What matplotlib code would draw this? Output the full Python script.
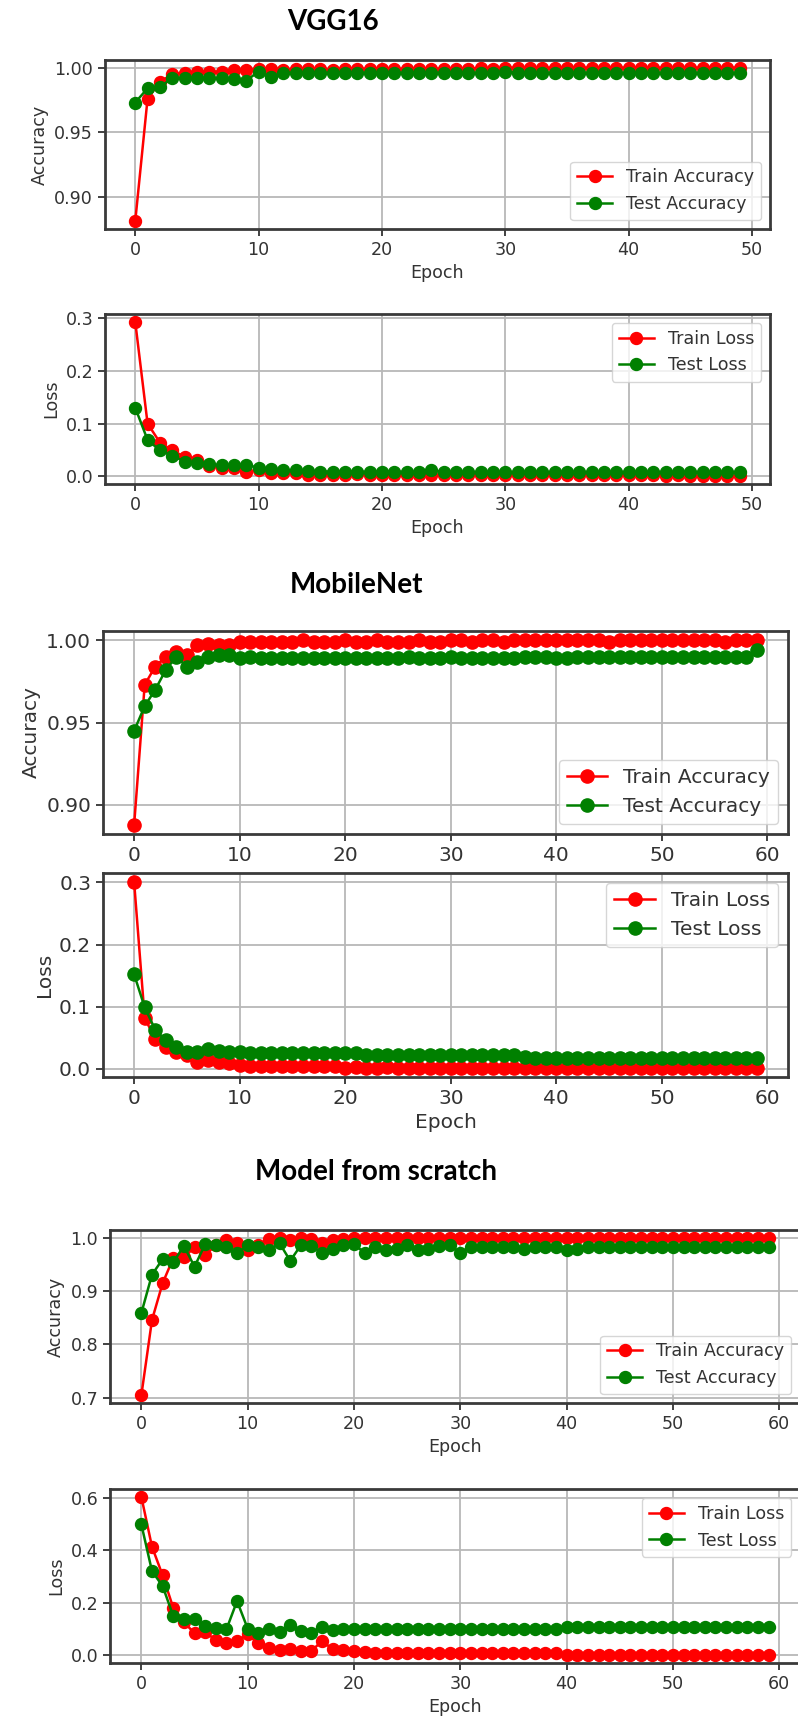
import matplotlib
matplotlib.use("Agg")
import matplotlib.pyplot as plt

W, H = 798, 1725

# ---- VGG16 (50 epochs) ----
vgg_epochs = list(range(50))
vgg_train_acc = [0.881, 0.976, 0.989, 0.995, 0.996, 0.997, 0.997, 0.997, 0.998, 0.998,
                 0.999, 0.999, 0.998, 0.999, 0.999, 0.999, 0.998, 0.999, 0.999, 0.999,
                 0.999, 0.999, 0.999, 0.999, 0.999, 0.999, 0.999, 0.999, 1.000, 0.999,
                 1.000, 1.000, 1.000, 1.000, 1.000, 1.000, 1.000, 1.000, 1.000, 1.000,
                 1.000, 1.000, 1.000, 1.000, 1.000, 1.000, 1.000, 1.000, 1.000, 1.000]
vgg_test_acc = [0.973, 0.984, 0.985, 0.992, 0.992, 0.992, 0.992, 0.992, 0.991, 0.990,
                0.997, 0.993, 0.996, 0.996, 0.996, 0.996, 0.996, 0.996, 0.996, 0.996,
                0.996, 0.996, 0.996, 0.996, 0.996, 0.996, 0.996, 0.996, 0.996, 0.996,
                0.997, 0.996, 0.996, 0.996, 0.996, 0.996, 0.996, 0.996, 0.996, 0.996,
                0.996, 0.996, 0.996, 0.996, 0.996, 0.996, 0.996, 0.996, 0.996, 0.996]
vgg_train_loss = [0.293, 0.100, 0.064, 0.049, 0.037, 0.030, 0.019, 0.016, 0.016, 0.009,
                  0.012, 0.007, 0.006, 0.006, 0.003, 0.003, 0.003, 0.003, 0.004, 0.003,
                  0.003, 0.003, 0.002, 0.003, 0.003, 0.002, 0.002, 0.002, 0.002, 0.002,
                  0.002, 0.002, 0.002, 0.002, 0.002, 0.002, 0.002, 0.002, 0.002, 0.002,
                  0.002, 0.002, 0.002, 0.000, 0.002, 0.000, 0.000, 0.000, 0.000, 0.000]
vgg_test_loss = [0.130, 0.069, 0.049, 0.039, 0.028, 0.025, 0.023, 0.021, 0.021, 0.022,
                 0.016, 0.013, 0.011, 0.011, 0.010, 0.009, 0.009, 0.009, 0.009, 0.008,
                 0.009, 0.009, 0.008, 0.008, 0.012, 0.008, 0.008, 0.008, 0.008, 0.008,
                 0.008, 0.008, 0.008, 0.008, 0.008, 0.008, 0.008, 0.008, 0.008, 0.008,
                 0.008, 0.008, 0.008, 0.008, 0.008, 0.008, 0.008, 0.008, 0.008, 0.008]

# ---- MobileNet (60 epochs) ----
mob_epochs = list(range(60))
mob_train_acc = [0.888, 0.973, 0.984, 0.990, 0.993, 0.991, 0.997, 0.998, 0.997, 0.997,
                 0.999, 0.999, 0.999, 0.999, 0.999, 0.999, 1.000, 0.999, 0.999, 0.999,
                 1.000, 0.999, 0.999, 1.000, 0.999, 0.999, 0.999, 1.000, 0.999, 0.999,
                 1.000, 1.000, 0.999, 1.000, 1.000, 0.999, 1.000, 1.000, 1.000, 1.000,
                 1.000, 1.000, 1.000, 1.000, 1.000, 0.999, 1.000, 1.000, 1.000, 1.000,
                 1.000, 1.000, 1.000, 1.000, 1.000, 1.000, 0.999, 1.000, 1.000, 1.000]
mob_test_acc = [0.945, 0.960, 0.970, 0.982, 0.990, 0.984, 0.987, 0.990, 0.991, 0.991,
                0.989, 0.990, 0.989, 0.989, 0.989, 0.989, 0.989, 0.989, 0.989, 0.989,
                0.989, 0.989, 0.989, 0.989, 0.989, 0.989, 0.990, 0.989, 0.989, 0.989,
                0.990, 0.989, 0.989, 0.989, 0.989, 0.989, 0.989, 0.990, 0.990, 0.990,
                0.989, 0.989, 0.990, 0.990, 0.990, 0.990, 0.990, 0.990, 0.990, 0.990,
                0.990, 0.990, 0.990, 0.990, 0.990, 0.990, 0.990, 0.990, 0.990, 0.994]
mob_train_loss = [0.300, 0.082, 0.048, 0.035, 0.027, 0.023, 0.011, 0.015, 0.012, 0.010,
                  0.007, 0.005, 0.004, 0.004, 0.004, 0.004, 0.004, 0.004, 0.004, 0.004,
                  0.002, 0.003, 0.002, 0.002, 0.003, 0.002, 0.002, 0.002, 0.002, 0.002,
                  0.002, 0.002, 0.002, 0.002, 0.002, 0.002, 0.002, 0.002, 0.002, 0.002,
                  0.002, 0.002, 0.002, 0.002, 0.002, 0.002, 0.002, 0.002, 0.002, 0.002,
                  0.002, 0.002, 0.002, 0.002, 0.002, 0.002, 0.002, 0.002, 0.002, 0.002]
mob_test_loss = [0.152, 0.099, 0.063, 0.046, 0.036, 0.027, 0.028, 0.032, 0.029, 0.028,
                 0.027, 0.025, 0.025, 0.025, 0.025, 0.025, 0.025, 0.025, 0.025, 0.025,
                 0.025, 0.026, 0.023, 0.023, 0.023, 0.023, 0.023, 0.023, 0.023, 0.023,
                 0.023, 0.023, 0.023, 0.023, 0.023, 0.023, 0.023, 0.019, 0.018, 0.018,
                 0.018, 0.018, 0.018, 0.018, 0.018, 0.018, 0.018, 0.018, 0.018, 0.018,
                 0.018, 0.018, 0.018, 0.018, 0.018, 0.018, 0.018, 0.018, 0.018, 0.018]

# ---- Model from scratch (60 epochs) ----
scr_epochs = list(range(60))
scr_train_acc = [0.705, 0.846, 0.915, 0.962, 0.964, 0.982, 0.968, 0.986, 0.996, 0.990,
                 0.977, 0.986, 0.997, 1.000, 0.996, 1.000, 0.998, 0.990, 0.996, 0.998,
                 1.000, 1.000, 0.999, 1.000, 1.000, 1.000, 0.999, 1.000, 1.000, 1.000,
                 0.999, 1.000, 1.000, 1.000, 1.000, 1.000, 1.000, 1.000, 1.000, 1.000,
                 1.000, 1.000, 1.000, 1.000, 1.000, 1.000, 1.000, 1.000, 1.000, 1.000,
                 1.000, 1.000, 1.000, 1.000, 1.000, 1.000, 1.000, 1.000, 1.000, 1.000]
scr_test_acc = [0.859, 0.931, 0.960, 0.954, 0.985, 0.946, 0.988, 0.986, 0.982, 0.971,
                0.986, 0.983, 0.977, 0.990, 0.957, 0.986, 0.985, 0.972, 0.980, 0.986,
                0.988, 0.972, 0.982, 0.978, 0.980, 0.986, 0.977, 0.980, 0.985, 0.986,
                0.972, 0.983, 0.982, 0.982, 0.983, 0.982, 0.980, 0.982, 0.983, 0.982,
                0.978, 0.980, 0.982, 0.982, 0.983, 0.982, 0.982, 0.982, 0.983, 0.982,
                0.982, 0.982, 0.983, 0.982, 0.982, 0.982, 0.982, 0.982, 0.982, 0.982]
scr_train_loss = [0.604, 0.414, 0.305, 0.181, 0.127, 0.084, 0.089, 0.058, 0.046, 0.055,
                  0.080, 0.046, 0.029, 0.020, 0.025, 0.017, 0.017, 0.055, 0.023, 0.020,
                  0.017, 0.013, 0.010, 0.010, 0.010, 0.010, 0.010, 0.010, 0.010, 0.010,
                  0.010, 0.010, 0.010, 0.010, 0.010, 0.010, 0.010, 0.010, 0.010, 0.009,
                  0.001, 0.001, 0.001, 0.001, 0.001, 0.001, 0.001, 0.001, 0.001, 0.001,
                  0.001, 0.001, 0.001, 0.001, 0.001, 0.001, 0.001, 0.001, 0.001, 0.001]
scr_test_loss = [0.499, 0.321, 0.264, 0.150, 0.137, 0.140, 0.112, 0.105, 0.099, 0.207,
                 0.102, 0.086, 0.099, 0.089, 0.114, 0.093, 0.086, 0.109, 0.096, 0.101,
                 0.101, 0.101, 0.101, 0.101, 0.101, 0.101, 0.101, 0.101, 0.101, 0.101,
                 0.101, 0.101, 0.101, 0.101, 0.101, 0.101, 0.101, 0.101, 0.101, 0.102,
                 0.109, 0.109, 0.109, 0.109, 0.109, 0.109, 0.109, 0.109, 0.109, 0.109,
                 0.109, 0.109, 0.109, 0.109, 0.109, 0.109, 0.109, 0.109, 0.109, 0.109]

titles = ["VGG16", "MobileNet", "Model from scratch"]


def axes_at(fig, left, right, top, bottom):
    # pixel box -> figure fraction
    return fig.add_axes([left / W, 1 - bottom / H, (right - left) / W, (bottom - top) / H])


def draw(ax, x, train, test, ylabel, names, loc, yticks, fs, ms, xlabel=True):
    ax.plot(x, train, color='red', marker='o', lw=1.8, ms=ms, label=names[0])
    ax.plot(x, test, color='green', marker='o', lw=1.8, ms=ms, label=names[1])
    ax.set_yticks(yticks)
    if xlabel:
        ax.set_xlabel('Epoch', fontsize=fs, color='#333333')
    ax.set_ylabel(ylabel, fontsize=fs, color='#333333')
    ax.tick_params(labelsize=fs, length=5, width=1.3, colors='#333333')
    ax.grid(True, color='#b8b8b8', lw=1.3)
    for s in ax.spines.values():
        s.set_color('#3a3a3a')
        s.set_linewidth(2.0)
    leg = ax.legend(loc=loc, fontsize=fs)
    for t in leg.get_texts():
        t.set_color('#333333')


fig = plt.figure(figsize=(W / 100, H / 100), dpi=100)

acc_names = ['Train Accuracy', 'Test Accuracy']
loss_names = ['Train Loss', 'Test Loss']

ax1 = axes_at(fig, 105, 770, 60, 229)
draw(ax1, vgg_epochs, vgg_train_acc, vgg_test_acc, 'Accuracy', acc_names, 'lower right',
     [0.90, 0.95, 1.00], 12.6, 8.6)
ax2 = axes_at(fig, 105, 770, 314, 484)
draw(ax2, vgg_epochs, vgg_train_loss, vgg_test_loss, 'Loss', loss_names, 'upper right',
     [0.0, 0.1, 0.2, 0.3], 12.6, 8.6)

ax3 = axes_at(fig, 103, 788, 631, 834)
draw(ax3, mob_epochs, mob_train_acc, mob_test_acc, 'Accuracy', acc_names, 'lower right',
     [0.90, 0.95, 1.00], 14.5, 9.5, xlabel=False)
ax4 = axes_at(fig, 103, 788, 873, 1077)
draw(ax4, mob_epochs, mob_train_loss, mob_test_loss, 'Loss', loss_names, 'upper right',
     [0.0, 0.1, 0.2, 0.3], 14.5, 9.5)

ax5 = axes_at(fig, 110, 800, 1230, 1403)
draw(ax5, scr_epochs, scr_train_acc, scr_test_acc, 'Accuracy', acc_names, 'lower right',
     [0.7, 0.8, 0.9, 1.0], 12.6, 8.6)
ax6 = axes_at(fig, 110, 800, 1489, 1663)
draw(ax6, scr_epochs, scr_train_loss, scr_test_loss, 'Loss', loss_names, 'upper right',
     [0.0, 0.2, 0.4, 0.6], 12.6, 8.6)

# section headings
for name, (cx, cy) in zip(titles, [(333, 22), (356, 585), (376, 1172)]):
    fig.text(cx / W, 1 - cy / H, name, ha='center', va='center', fontsize=20,
             fontweight='bold', family=['Lato', 'DejaVu Sans'])

fig.savefig('out.png', dpi=100)
